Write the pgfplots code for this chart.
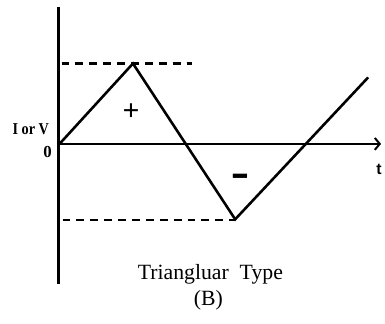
\documentclass[border=0pt]{standalone}
\usepackage{fontspec}
\setmainfont{Liberation Serif}
\newfontfamily\sansb{Liberation Sans}
\usepackage{graphicx}
\usepackage{pgfplots}
\pgfplotsset{compat=1.18}
\usetikzlibrary{arrows.meta}
\begin{document}
\begin{tikzpicture}
\begin{axis}[
  width=385bp, height=326bp, scale only axis,
  xmin=0, xmax=385, ymin=0, ymax=326,
  hide axis, clip=false,
]
\path (rel axis cs:0,0) rectangle (rel axis cs:1,1);
% axes
\addplot[black, line width=3bp] coordinates {(59,319) (59,40)};
\addplot[black, line width=2.6bp, -{Straight Barb[length=5bp,width=12bp,line width=2bp]}] coordinates {(59,181) (384,181)};
% dashed reference lines
\addplot[black, line width=2.4bp, dash pattern=on 8bp off 6bp] coordinates {(62,262) (193,262)};
\addplot[black, line width=2.4bp, dash pattern=on 8bp off 6bp] coordinates {(63,104) (237,104)};
% triangular wave
\addplot[black, line width=2.6bp, line join=miter] coordinates {(60,181) (134,262) (237,105) (371,248)};
% labels
\node[font=\fontsize{16}{18}\selectfont\bfseries] at (axis cs:31,196) {\scalebox{0.9}[1.05]{I or V}};
\node[font=\fontsize{17}{18}\selectfont\bfseries] at (axis cs:48,173) {0};
\node[font=\fontsize{16}{18}\selectfont\sansb\bfseries] at (axis cs:382,155) {t};
\node[font=\fontsize{30}{32}\selectfont\bfseries] at (axis cs:132,213) {+};
\node[font=\fontsize{28}{30}\selectfont\bfseries] at (axis cs:242,142) {\scalebox{1}[2.2]{\char"2013}};
\node[font=\fontsize{22}{26}\selectfont] at (axis cs:212,50) {Triangluar\ \ Type};
\node[font=\fontsize{22}{26}\selectfont] at (axis cs:210,23) {(B)};
\end{axis}
\end{tikzpicture}
\end{document}
